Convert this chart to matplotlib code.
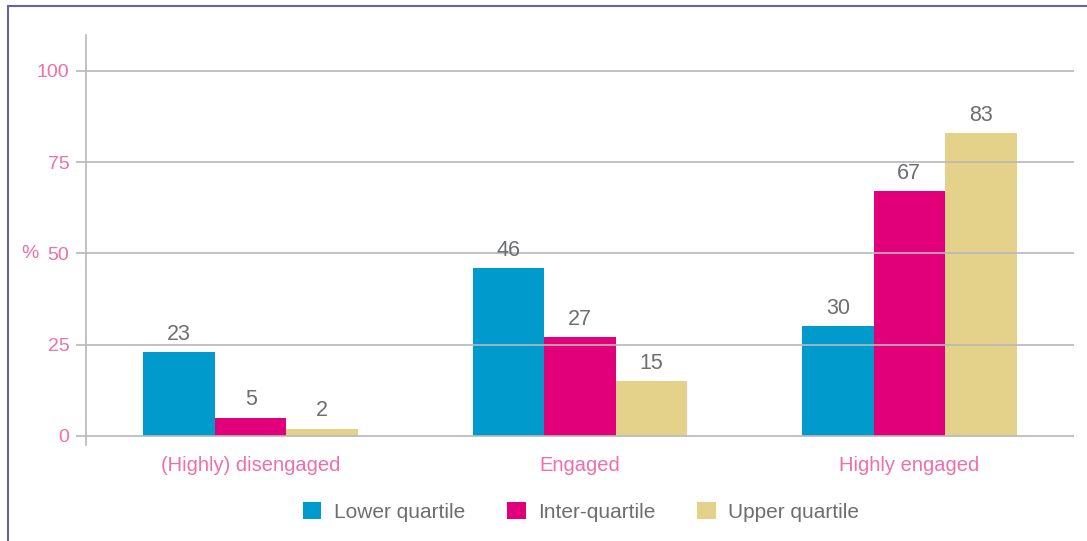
import numpy as np
import matplotlib
matplotlib.use("Agg")
import matplotlib.pyplot as plt
from matplotlib.patches import Rectangle

# data
categories = ["(Highly) disengaged", "Engaged", "Highly engaged"]
series_names = ["Lower quartile", "Inter-quartile", "Upper quartile"]
lower = [23, 46, 30]
inter = [5, 27, 67]
upper = [2, 15, 83]
yticks = [0, 25, 50, 75, 100]

colors = ["#009BCC", "#E2007A", "#E5D28A"]
pink = "#F06EAA"
grey_txt = "#6D6E71"
grid_col = "#B5B8BC"

plt.rcParams["font.family"] = ["Liberation Sans", "DejaVu Sans"]

fig = plt.figure(figsize=(10.87, 5.41), dpi=100)
ax = fig.add_axes([86 / 1087, 1 - 445 / 541, (1074 - 86) / 1087, (445 - 35) / 541])

x = np.arange(len(categories))
w = 0.217
for i, vals in enumerate([lower, inter, upper]):
    pos = x + (i - 1) * w
    bars = ax.bar(pos, vals, width=w, color=colors[i], label=series_names[i], zorder=1)
    for b, v in zip(bars, vals):
        ax.text(b.get_x() + b.get_width() / 2, v + 2.0, str(v), ha="center", va="bottom",
                fontsize=15.5, color=grey_txt, zorder=3)

ax.set_ylim(-2.5, 109.8)
ax.set_xlim(-0.5, 2.5)
ax.set_yticks(yticks)
ax.yaxis.grid(True, color=grid_col, linewidth=1.2)
ax.set_axisbelow(False)
for s in ["top", "right", "bottom"]:
    ax.spines[s].set_visible(False)
ax.spines["left"].set_color(grid_col)
ax.spines["left"].set_linewidth(1.2)
ax.tick_params(axis="y", colors=grid_col, length=7, width=1.2, pad=5, labelcolor=pink, labelsize=14)
ax.tick_params(axis="x", length=0, pad=8, labelcolor=pink, labelsize=14.5)
ax.set_xticks(x)
ax.set_xticklabels(categories)
ax.text(-0.057, 50, "%", transform=ax.get_yaxis_transform(), ha="center", va="center",
        color=pink, fontsize=14)

leg = fig.legend(loc="center", bbox_to_anchor=(581 / 1087, 1 - 512 / 541), ncol=3, frameon=False,
                 fontsize=15, handlelength=0.9, handleheight=0.9, columnspacing=2.0,
                 handletextpad=0.6)
for t in leg.get_texts():
    t.set_color(grey_txt)

# outer frame
fig.patches.append(Rectangle((8 / 1087, -0.1), 1.2, 1 - 6 / 541 + 0.1, transform=fig.transFigure,
                             fill=False, edgecolor="#6E5FA0", linewidth=1.5))

fig.savefig("out.png", dpi=100)
